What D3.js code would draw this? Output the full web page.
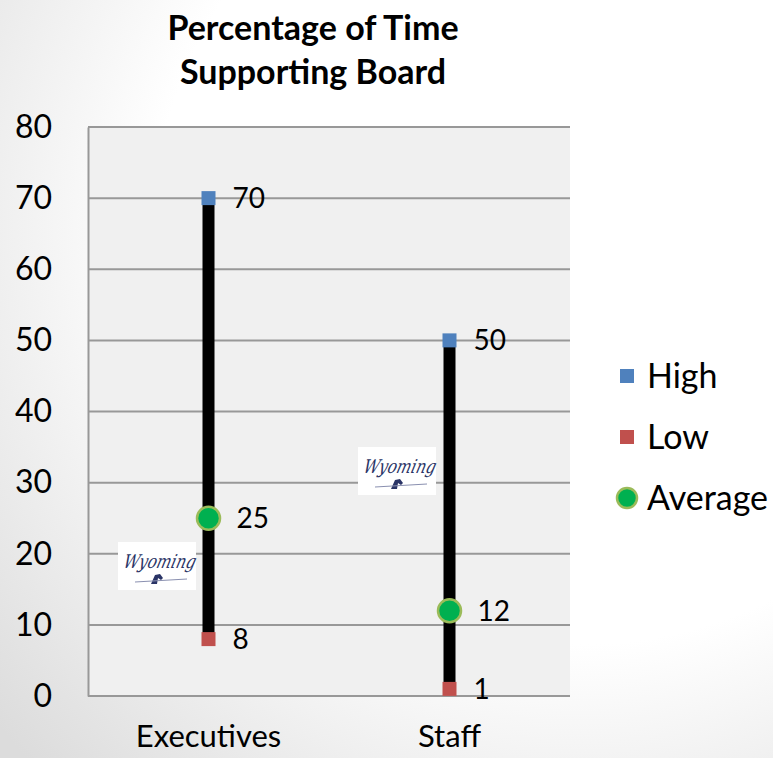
<!DOCTYPE html>
<html>
<head>
<meta charset="utf-8">
<script src="https://cdn.jsdelivr.net/npm/d3@7"></script>
<style>
  html, body { margin: 0; padding: 0; background: #fff; }
  svg { display: block; }
</style>
</head>
<body>
<svg id="chart" width="773" height="758"></svg>
<script>
// Percentage of time spent supporting the board: high / low / average per group
const categories = ["Executives", "Staff"];
const highValues = [70, 50];
const lowValues = [8, 1];
const averageValues = [25, 12];
const yTicks = [0, 10, 20, 30, 40, 50, 60, 70, 80];
const titleLines = ["Percentage of Time", "Supporting Board"];
const legendItems = ["High", "Low", "Average"];

const W = 773, H = 758;
const margin = { left: 88, right: 203, top: 127, bottom: 62 };
const font = "Lato, 'Open Sans', sans-serif";

const svg = d3.select("#chart");

// soft page shading
const defs = svg.append("defs");
const grad = defs.append("radialGradient").attr("id", "pageShade")
  .attr("cx", "0.75").attr("cy", "0.3").attr("r", "1");
grad.append("stop").attr("offset", "0.55").attr("stop-color", "#ffffff");
grad.append("stop").attr("offset", "1").attr("stop-color", "#dcdcdc");
svg.append("rect").attr("width", W).attr("height", H).attr("fill", "url(#pageShade)");

const x = d3.scaleBand().domain(categories).range([margin.left, W - margin.right]);
const y = d3.scaleLinear().domain([0, 80]).range([H - margin.bottom, margin.top]);

// plot area
svg.append("rect")
  .attr("x", margin.left).attr("y", margin.top)
  .attr("width", W - margin.right - margin.left)
  .attr("height", y(0) - y(80))
  .attr("fill", "#f0f0f0");

// gridlines
svg.append("g").selectAll("line").data(yTicks).join("line")
  .attr("x1", margin.left).attr("x2", W - margin.right)
  .attr("y1", d => y(d)).attr("y2", d => y(d))
  .attr("stroke", "#989898").attr("stroke-width", 2);

// y axis
const yAxis = svg.append("g")
  .attr("transform", `translate(${margin.left},0)`)
  .call(d3.axisLeft(y).tickValues(yTicks).tickSize(0).tickPadding(36));
yAxis.select(".domain").attr("stroke", "#989898").attr("stroke-width", 2);
yAxis.selectAll("text").attr("font-family", font).attr("font-size", 32).attr("fill", "#000");

// x axis labels
const xAxis = svg.append("g")
  .attr("transform", `translate(0,${y(0)})`)
  .call(d3.axisBottom(x).tickSize(0).tickPadding(29));
xAxis.select(".domain").remove();
xAxis.selectAll("text").attr("font-family", font).attr("font-size", 31).attr("fill", "#000");

// state logo badges
function logo(cx, cy) {
  const g = svg.append("g").attr("transform", `translate(${cx},${cy})`);
  g.append("rect").attr("x", -39).attr("y", -24).attr("width", 78).attr("height", 48).attr("fill", "#fff");
  g.append("text").attr("x", 2).attr("y", 2).attr("text-anchor", "middle")
    .attr("font-family", "'DejaVu Serif', serif").attr("font-style", "italic")
    .attr("font-size", 19).attr("fill", "#2a3466")
    .attr("textLength", 72).attr("lengthAdjust", "spacingAndGlyphs")
    .attr("transform", "skewX(-14)")
    .text("Wyoming");
  g.append("path")
    .attr("d", "M-6,18 L-2,9 L3,8 L6,12 L4,14 L1,12 L0,18 L-2,18 Z")
    .attr("fill", "#2a3466");
  g.append("line").attr("x1", -22).attr("x2", 30).attr("y1", 16).attr("y2", 13)
    .attr("stroke", "#8a90b0").attr("stroke-width", 1);
}
logo(157, 566);
logo(397, 471);

// high-low bars
svg.append("g").selectAll("line").data(categories).join("line")
  .attr("x1", d => x(d) + x.bandwidth() / 2)
  .attr("x2", d => x(d) + x.bandwidth() / 2)
  .attr("y1", (d, i) => y(highValues[i]))
  .attr("y2", (d, i) => y(lowValues[i]))
  .attr("stroke", "#000").attr("stroke-width", 12);

const cx = d => x(d) + x.bandwidth() / 2;
const sq = 14;

// high markers
svg.append("g").selectAll("rect").data(categories).join("rect")
  .attr("x", d => cx(d) - sq / 2).attr("y", (d, i) => y(highValues[i]) - sq / 2)
  .attr("width", sq).attr("height", sq).attr("fill", "#4f81bd");
// low markers
svg.append("g").selectAll("rect").data(categories).join("rect")
  .attr("x", d => cx(d) - sq / 2).attr("y", (d, i) => y(lowValues[i]) - sq / 2)
  .attr("width", sq).attr("height", sq).attr("fill", "#c0504d");
// average markers
svg.append("g").selectAll("circle").data(categories).join("circle")
  .attr("cx", cx).attr("cy", (d, i) => y(averageValues[i]))
  .attr("r", 11.5).attr("fill", "#00b050")
  .attr("stroke", "#9bbb59").attr("stroke-width", 2.5);

// value labels
function labels(values, dx) {
  svg.append("g").selectAll("text").data(categories).join("text")
    .attr("x", d => cx(d) + dx).attr("y", (d, i) => y(values[i]))
    .attr("dy", "0.36em")
    .attr("font-family", font).attr("font-size", 28).attr("fill", "#000")
    .text((d, i) => values[i]);
}
labels(highValues, 24);
labels(lowValues, 24);
labels(averageValues, 28);

// title
svg.append("g").selectAll("text").data(titleLines).join("text")
  .attr("x", 313).attr("y", (d, i) => 40 + i * 44)
  .attr("text-anchor", "middle")
  .attr("font-family", font).attr("font-weight", "bold").attr("font-size", 34)
  .attr("fill", "#000")
  .text(d => d);

// legend
const legendColors = ["#4f81bd", "#c0504d", "#00b050"];
const lg = svg.append("g").selectAll("g").data(legendItems).join("g")
  .attr("transform", (d, i) => `translate(627,${376 + i * 61})`);
lg.each(function (d, i) {
  const g = d3.select(this);
  if (i < 2) {
    g.append("rect").attr("x", -7).attr("y", -7).attr("width", 14).attr("height", 14)
      .attr("fill", legendColors[i]);
  } else {
    g.append("circle").attr("r", 10).attr("fill", legendColors[i])
      .attr("stroke", "#9bbb59").attr("stroke-width", 2.5);
  }
  g.append("text").attr("x", 20).attr("dy", "0.36em")
    .attr("font-family", font).attr("font-size", 34).attr("fill", "#000")
    .text(d);
});
</script>
</body>
</html>
